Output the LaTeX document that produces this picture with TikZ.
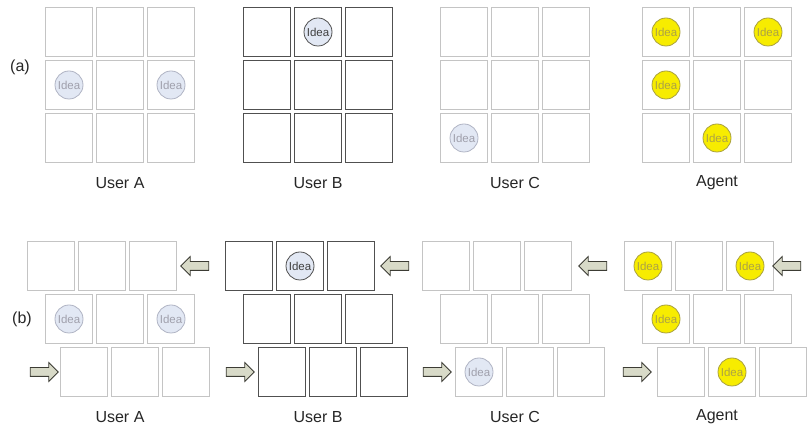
\documentclass[tikz,border=0pt]{standalone}
\usepackage{fontspec}
\setmainfont{Liberation Sans}
\usepackage{tikz}
\usetikzlibrary{shapes.arrows}
\definecolor{cellgray}{RGB}{196,196,196}
\definecolor{celldark}{RGB}{80,80,80}
\definecolor{ideablue}{RGB}{226,232,244}
\definecolor{ideaedge}{RGB}{176,180,196}
\definecolor{ideatext}{RGB}{160,160,172}
\definecolor{agentyellow}{RGB}{247,236,0}
\definecolor{agentedge}{RGB}{168,160,64}
\definecolor{agenttext}{RGB}{172,162,70}
\definecolor{arrowfill}{RGB}{216,218,200}
\definecolor{arrowedge}{RGB}{60,60,52}

\begin{document}
\begin{tikzpicture}[x=1pt, y=-1pt,
cell/.style={rectangle, draw=cellgray, line width=1.2pt, minimum width=47pt,
minimum height=49pt, inner sep=0pt},
darkcell/.style={cell, draw=celldark},
idea/.style={circle, draw=ideaedge, fill=ideablue, text=ideatext, line width=0.8pt,
minimum size=28pt, inner sep=0pt, font=\fontsize{11.5}{12}\selectfont},
darkidea/.style={idea, draw=celldark, text=celldark!80!black},
agentidea/.style={idea, draw=agentedge, fill=agentyellow, text=agenttext},
user/.style={font=\fontsize{16}{18}\selectfont, text=black!85},
blockarrow/.style={single arrow, draw=arrowedge, fill=arrowfill, line width=0.8pt,
minimum height=28pt, single arrow head extend=5pt,
single arrow head indent=0pt, inner xsep=0pt, inner ysep=4pt},
larrow/.style={blockarrow, shape border rotate=180},
rarrow/.style={blockarrow}]
  \useasboundingbox (0,0) rectangle (807,427);
  % (a) cells
  \foreach \u/\x/\s in {A/45/cell, B/243/darkcell, C/440/cell, Ag/642/cell}
    \foreach \r in {1,2,3}
      \foreach \c in {1,2,3}
        \node[\s] (a\u\r\c) at ({\x+24+51*(\c-1)}, {32+53*(\r-1)}) {};
  % (b) cells, rows shifted
  \foreach \u/\x/\s in {A/45/cell, B/243/darkcell, C/440/cell, Ag/642/cell}
    \foreach \r/\dx in {1/-18, 2/0, 3/15}
      \foreach \c in {1,2,3}
        \node[\s] (b\u\r\c) at ({\x+\dx+24+51*(\c-1)}, {266+53*(\r-1)}) {};
  % (a) ideas
  \node[idea] (iaA1) at (aA21) {Idea};
  \node[idea] (iaA2) at (aA23) {Idea};
  \node[darkidea] (iaB1) at (aB12) {Idea};
  \node[idea] (iaC1) at (aC31) {Idea};
  \node[agentidea] (iaAg1) at (aAg11) {Idea};
  \node[agentidea] (iaAg2) at (aAg13) {Idea};
  \node[agentidea] (iaAg3) at (aAg21) {Idea};
  \node[agentidea] (iaAg4) at (aAg32) {Idea};
  % (b) ideas
  \node[idea] (ibA1) at (bA21) {Idea};
  \node[idea] (ibA2) at (bA23) {Idea};
  \node[darkidea] (ibB1) at (bB12) {Idea};
  \node[idea] (ibC1) at (bC31) {Idea};
  \node[agentidea] (ibAg1) at (bAg11) {Idea};
  \node[agentidea] (ibAg2) at (bAg13) {Idea};
  \node[agentidea] (ibAg3) at (bAg21) {Idea};
  \node[agentidea] (ibAg4) at (bAg32) {Idea};
  % labels
  \node[user] (la) at (20,67) {(a)};
  \node[user] (lb) at (22,319) {(b)};
  \node[user] (uaA) at (120,183) {User A};
  \node[user] (uaB) at (318,183) {User B};
  \node[user] (uaC) at (515,183) {User C};
  \node[user] (uaAg) at (717,183) {Agent};
  \node[user] (ubA) at (120,417) {User A};
  \node[user] (ubB) at (318,417) {User B};
  \node[user] (ubC) at (515,417) {User C};
  \node[user] (ubAg) at (717,417) {Agent};
  % arrows
  \node[larrow] (l1) at (197,266) {};
  \node[larrow] (l2) at (397,266) {};
  \node[larrow] (l3) at (595,266) {};
  \node[larrow] (l4) at (789,266) {};
  \node[rarrow] (r1) at (42,372) {};
  \node[rarrow] (r2) at (238,372) {};
  \node[rarrow] (r3) at (435,372) {};
  \node[rarrow] (r4) at (635,372) {};
\end{tikzpicture}
\end{document}
